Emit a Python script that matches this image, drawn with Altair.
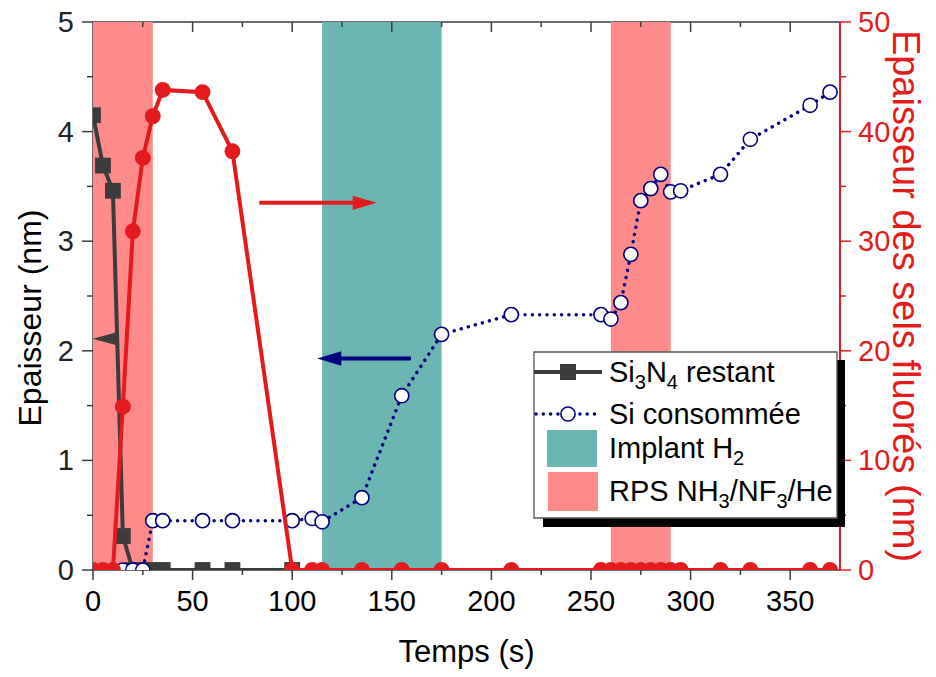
import altair as alt
import pandas as pd

# ---------------- data ----------------
nitride_time = [0, 5, 10, 15, 20, 25, 30, 35, 55, 70, 100]
nitride_thick = [4.15, 3.69, 3.46, 0.31, 0, 0, 0, 0, 0, 0, 0]

si_time = [15, 20, 25, 30, 35, 55, 70, 100, 110, 115, 135, 155, 175, 210,
           255, 260, 265, 270, 275, 280, 285, 290, 295, 315, 330, 360, 370]
si_thick = [0, 0, 0, 0.45, 0.45, 0.45, 0.45, 0.45, 0.47, 0.44, 0.66, 1.59, 2.15, 2.33,
            2.33, 2.29, 2.44, 2.88, 3.37, 3.48, 3.61, 3.45, 3.46, 3.61, 3.93, 4.24, 4.36]

salt_time = [0, 5, 10, 15, 20, 25, 30, 35, 55, 70, 100, 110, 115, 135, 155, 175, 210,
             255, 260, 265, 270, 275, 280, 285, 290, 295, 315, 330, 360, 370]
salt_thick = [0, 0, 0, 14.9, 30.9, 37.6, 41.4, 43.8, 43.6, 38.2, 0, 0, 0, 0, 0, 0, 0,
              0, 0, 0, 0, 0, 0, 0, 0, 0, 0, 0, 0, 0]

band_start = [0, 115, 260]
band_end = [30, 175, 290]
band_kind = ["RPS", "Implant", "RPS"]

# annotation arrows (left-axis units)
arrow_from = [83.5, 159.6]
arrow_to = [142.4, 112.6]
arrow_level = [3.35, 1.93]
arrow_kind = ["salt", "si"]

marker_time = [5.9]
marker_level = [2.11]

x_major = [0, 50, 100, 150, 200, 250, 300, 350]
x_minor = [25, 75, 125, 175, 225, 275, 325]
yl_major = [0, 1, 2, 3, 4, 5]
yl_minor = [0.5, 1.5, 2.5, 3.5, 4.5]
yr_major = [0, 10, 20, 30, 40, 50]
yr_minor = [5, 15, 25, 35, 45]

x_title = "Temps (s)"
yl_title = "Epaisseur (nm)"
yr_title = "Epaisseur des sels fluorés (nm)"

# ---------------- styling ----------------
W, H = 747, 548
X_MAX = 375
RED = "#E41A1C"
NAVY = "#000080"
DARK = "#3C3C3C"
PINK = "#FF8A8A"
TEAL = "#6BB5B3"
FONT = "Liberation Sans"
TICK_FS = 29

xs = alt.Scale(domain=[0, X_MAX], nice=False, zero=False)
yl = alt.Scale(domain=[0, 5], nice=False, zero=False)
yr = alt.Scale(domain=[0, 50], nice=False, zero=False)

# ---------------- tables ----------------
nitride = pd.DataFrame({"t": nitride_time, "v": nitride_thick})
si = pd.DataFrame({"t": si_time, "v": si_thick})
salt = pd.DataFrame({"t": salt_time, "v": salt_thick})
bands = pd.DataFrame({"s": band_start, "e": band_end,
                      "c": [PINK if k == "RPS" else TEAL for k in band_kind]})

px_per_s = W / X_MAX
arrows = pd.DataFrame({"a": arrow_from, "b": arrow_to, "y": arrow_level, "k": arrow_kind})
arrows["dir"] = (arrows["b"] - arrows["a"]).apply(lambda d: 1 if d > 0 else -1)
arrows["head"] = arrows["b"] - arrows["dir"] * 12 / px_per_s
arrows["shaft_end"] = arrows["b"] - arrows["dir"] * 20 / px_per_s
markers = pd.DataFrame({"t": marker_time, "v": marker_level})
one = pd.DataFrame({"k": [0]})

X = lambda f: alt.X(f, scale=xs, axis=None)
YL = lambda f: alt.Y(f, scale=yl, axis=None)
YR = lambda f: alt.Y(f, scale=yr, axis=None)

# ---------------- left-axis group ----------------
band_layer = alt.Chart(bands).mark_rect().encode(
    x=X("s:Q"), x2="e:Q", y=alt.value(0), y2=alt.value(H), color=alt.Color("c:N", scale=None))

nitride_line = alt.Chart(nitride).mark_line(color=DARK, strokeWidth=4, clip=True).encode(
    x=X("t:Q"), y=YL("v:Q"))
nitride_pts = alt.Chart(nitride).mark_point(shape="square", filled=True, color=DARK, size=250,
                                            opacity=1, clip=True).encode(x=X("t:Q"), y=YL("v:Q"))
si_line = alt.Chart(si).mark_line(color=NAVY, strokeWidth=3.5, strokeDash=[0.01, 7.3],
                                  strokeCap="round", clip=True).encode(x=X("t:Q"), y=YL("v:Q"))
si_pts = alt.Chart(si).mark_point(shape="circle", filled=False, fill="white", fillOpacity=1,
                                  stroke=NAVY, strokeWidth=1.6, size=200, opacity=1,
                                  clip=True).encode(x=X("t:Q"), y=YL("v:Q"))

kind_color = alt.Color("k:N", scale=alt.Scale(domain=["salt", "si"], range=[RED, NAVY]), legend=None)
arrow_shaft = alt.Chart(arrows).mark_rule(strokeWidth=4).encode(
    x=X("a:Q"), x2="shaft_end:Q", y=YL("y:Q"), color=kind_color)
arrow_head = alt.Chart(arrows).mark_point(filled=True, size=576, opacity=1).encode(
    x=X("head:Q"), y=YL("y:Q"),
    shape=alt.Shape("k:N", scale=alt.Scale(domain=["salt", "si"],
                                           range=["M -1 -0.6 L 1 0 L -1 0.6 Z",
                                                  "M 1 -0.6 L -1 0 L 1 0.6 Z"]), legend=None),
    color=kind_color)
marker_layer = alt.Chart(markers).mark_point(filled=True, size=576, opacity=1, color=DARK,
                                             shape="M 1 -0.55 L -1 0 L 1 0.55 Z").encode(
    x=X("t:Q"), y=YL("v:Q"))

# hand-drawn axes (ticks + labels through the scales)
xmaj = pd.DataFrame({"t": x_major})
xmin = pd.DataFrame({"t": x_minor})
x_major_ticks = alt.Chart(xmaj).mark_rule(color=DARK, strokeWidth=1.5).encode(
    x=X("t:Q"), y=alt.value(H), y2=alt.value(H + 10))
x_minor_ticks = alt.Chart(xmin).mark_rule(color=DARK, strokeWidth=1.5).encode(
    x=X("t:Q"), y=alt.value(H), y2=alt.value(H + 5))
top_major = alt.Chart(pd.DataFrame({"t": x_major[1:]})).mark_rule(color=DARK, strokeWidth=1.5).encode(
    x=X("t:Q"), y=alt.value(0), y2=alt.value(10))
top_minor = alt.Chart(xmin).mark_rule(color=DARK, strokeWidth=1.5).encode(
    x=X("t:Q"), y=alt.value(0), y2=alt.value(5))
x_labels = alt.Chart(xmaj).mark_text(align="center", baseline="alphabetic", font=FONT,
                                      fontSize=TICK_FS, color="black").encode(
    x=X("t:Q"), y=alt.value(H + 41), text=alt.Text("t:Q", format="d"))

ylmaj = pd.DataFrame({"v": yl_major})
yl_major_ticks = alt.Chart(ylmaj).mark_rule(color=DARK, strokeWidth=1.5).encode(
    y=YL("v:Q"), x=alt.value(0), x2=alt.value(-11))
yl_minor_ticks = alt.Chart(pd.DataFrame({"v": yl_minor})).mark_rule(color=DARK, strokeWidth=1.5).encode(
    y=YL("v:Q"), x=alt.value(0), x2=alt.value(-6))
yl_labels = alt.Chart(ylmaj).mark_text(align="right", baseline="alphabetic", dy=10, font=FONT,
                                        fontSize=TICK_FS, color="#222222").encode(
    y=YL("v:Q"), x=alt.value(-19), text=alt.Text("v:Q", format="d"))

left = alt.layer(band_layer, top_major, top_minor, x_major_ticks, x_minor_ticks, x_labels,
                 yl_major_ticks, yl_minor_ticks, yl_labels,
                 nitride_line, si_line, nitride_pts, si_pts, marker_layer, arrow_shaft, arrow_head)

# ---------------- right-axis group ----------------
salt_line = alt.Chart(salt).mark_line(color=RED, strokeWidth=4, clip=True).encode(
    x=X("t:Q"), y=YR("v:Q"))
salt_pts = alt.Chart(salt).mark_point(shape="circle", filled=True, color=RED, size=254,
                                      opacity=1, clip=True).encode(x=X("t:Q"), y=YR("v:Q"))
yrmaj = pd.DataFrame({"v": yr_major})
yr_domain = alt.Chart(one).mark_rule(color=RED, strokeWidth=2).encode(
    x=alt.value(W), y=alt.value(0), y2=alt.value(H))
yr_major_ticks = alt.Chart(yrmaj).mark_rule(color=RED, strokeWidth=1.5).encode(
    y=YR("v:Q"), x=alt.value(W), x2=alt.value(W + 11))
yr_minor_ticks = alt.Chart(pd.DataFrame({"v": yr_minor})).mark_rule(color=RED, strokeWidth=1.5).encode(
    y=YR("v:Q"), x=alt.value(W), x2=alt.value(W + 6))
yr_labels = alt.Chart(yrmaj).mark_text(align="left", baseline="alphabetic", dy=10, font=FONT,
                                        fontSize=TICK_FS, color=RED).encode(
    y=YR("v:Q"), x=alt.value(W + 18), text=alt.Text("v:Q", format="d"))

right = alt.layer(yr_domain, yr_major_ticks, yr_minor_ticks, yr_labels, salt_line, salt_pts)

# ---------------- titles ----------------
t_x = alt.Chart(one).mark_text(align="center", baseline="alphabetic", font=FONT, fontSize=31,
                               color="black", text=x_title).encode(
    x=alt.value(W / 2), y=alt.value(H + 92))
t_yl = alt.Chart(one).mark_text(align="center", baseline="middle", font=FONT, fontSize=32,
                                color="black", angle=270, text=yl_title).encode(
    x=alt.value(-62), y=alt.value(H / 2 + 22))
t_yr = alt.Chart(one).mark_text(align="center", baseline="middle", font=FONT, fontSize=38,
                                color=RED, angle=90, text=yr_title).encode(
    x=alt.value(W + 64), y=alt.value(H / 2))

# ---------------- legend (drawn by hand, Origin style) ----------------
AW = {'S': 667, 'i': 222, 'N': 722, ' ': 278, 'r': 333, 'e': 556, 's': 500, 't': 278, 'a': 556,
      'n': 556, 'I': 278, 'm': 833, 'p': 556, 'l': 222, 'H': 722, 'R': 722, 'P': 667, '/': 278,
      'F': 611, 'c': 500, 'o': 556, 'é': 556, '2': 556, '3': 556, '4': 556}
legend_rows = [
    [("Si", 0), ("3", 1), ("N", 0), ("4", 1), (" restant", 0)],
    [("Si consommée", 0)],
    [("Implant H", 0), ("2", 1)],
    [("RPS NH", 0), ("3", 1), ("/NF", 0), ("3", 1), ("/He", 0)],
]
FS_MAIN, FS_SUB, SUB_DROP = 29, 20, 7
row_base = [360, 402, 436, 479]
TX0 = 516
text_layers = []
for row, base in zip(legend_rows, row_base):
    xpos = TX0
    for txt, sub in row:
        fs = FS_SUB if sub else FS_MAIN
        shown = txt.lstrip(" ")
        lead = sum(AW[c] for c in txt[:len(txt) - len(shown)]) * fs / 1000
        text_layers.append(
            alt.Chart(one).mark_text(align="left", baseline="alphabetic", font=FONT,
                                     color="black", fontSize=fs, text=shown).encode(
                x=alt.value(xpos + lead), y=alt.value(base + (SUB_DROP if sub else 0))))
        xpos += sum(AW[c] for c in txt) * fs / 1000

BX0, BX1, BY0, BY1 = 441, 744, 330, 496
shadow = alt.Chart(one).mark_rect(color="black").encode(
    x=alt.value(BX0 + 9), x2=alt.value(BX1 + 8), y=alt.value(BY0 + 8), y2=alt.value(BY1 + 9))
box = alt.Chart(one).mark_rect(fill="white", stroke="#555555", strokeWidth=1.3).encode(
    x=alt.value(BX0), x2=alt.value(BX1), y=alt.value(BY0), y2=alt.value(BY1))
leg_line1 = alt.Chart(one).mark_rule(color=DARK, strokeWidth=4).encode(
    x=alt.value(BX0), x2=alt.value(509), y=alt.value(350))
leg_sq = alt.Chart(one).mark_point(shape="square", filled=True, color=DARK, size=256, opacity=1).encode(
    x=alt.value(475), y=alt.value(350))
leg_line2 = alt.Chart(one).mark_rule(color=NAVY, strokeWidth=3.5, strokeDash=[0.01, 7.3],
                                     strokeCap="round").encode(
    x=alt.value(BX0 + 2), x2=alt.value(507), y=alt.value(392))
leg_circ = alt.Chart(one).mark_point(shape="circle", fill="white", fillOpacity=1, stroke=NAVY,
                                     strokeWidth=1.6, size=200, opacity=1).encode(
    x=alt.value(475), y=alt.value(392))
leg_teal = alt.Chart(one).mark_rect(color=TEAL).encode(
    x=alt.value(454), x2=alt.value(504), y=alt.value(408), y2=alt.value(445))
leg_pink = alt.Chart(one).mark_rect(color=PINK).encode(
    x=alt.value(455), x2=alt.value(505), y=alt.value(450), y2=alt.value(489))

legend = alt.layer(t_x, t_yl, t_yr, shadow, box, leg_line1, leg_sq, leg_line2, leg_circ,
                   leg_teal, leg_pink, *text_layers)

chart = alt.layer(left, right, legend).resolve_scale(y="independent").properties(
    width=W, height=H,
    autosize=alt.AutoSizeParams(type="none"),
    padding={"left": 85, "top": 14, "right": 88, "bottom": 99},
    background="white",
).configure_view(stroke=DARK, strokeWidth=1.5)

chart.save("out.html", embed_options={"renderer": "svg", "actions": False})
